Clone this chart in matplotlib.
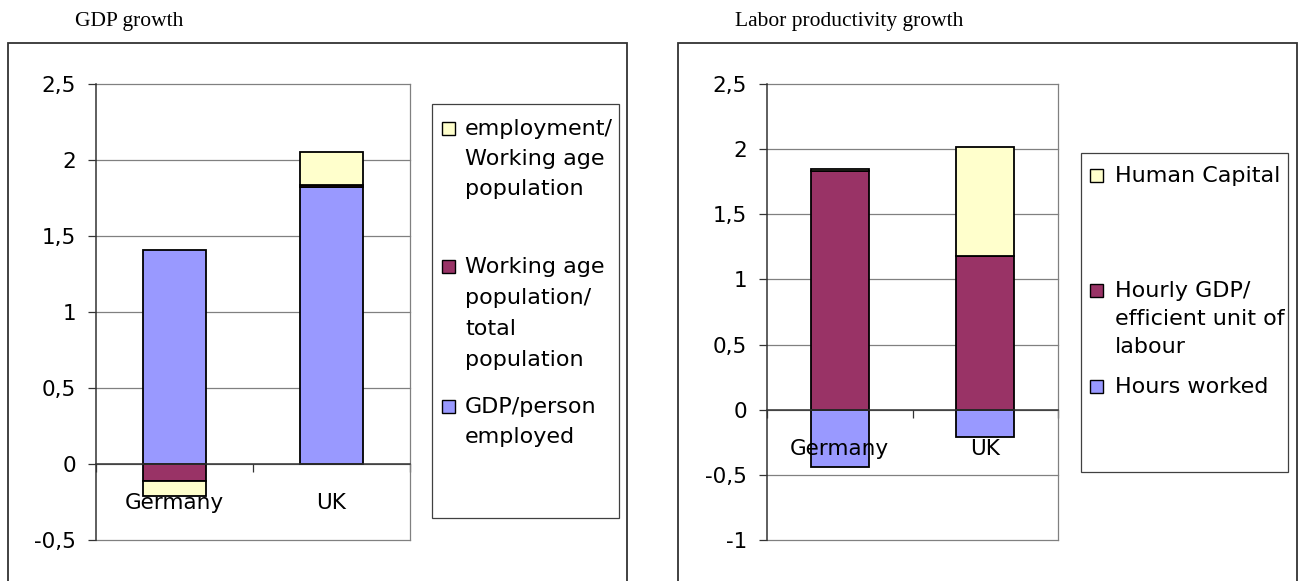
import numpy as np
import matplotlib.pyplot as plt
from matplotlib.patches import Rectangle

plt.rcParams['font.family'] = ['DejaVu Sans']
plt.rcParams['font.size'] = 15.5

W, H = 1299, 581

countries = ['Germany', 'UK']

# GDP growth split into three parts
gdp_per_employed = [1.41, 1.82]
working_age_share = [-0.11, 0.015]
employment_rate = [-0.10, 0.215]
gdp_labels = ['GDP/person\nemployed',
              'Working age\npopulation/\ntotal\npopulation',
              'employment/\nWorking age\npopulation']

# labour productivity growth split into three parts
hours_worked = [-0.44, -0.21]
hourly_gdp = [1.83, 1.18]
human_capital = [0.015, 0.84]
prod_labels = ['Hours worked',
               'Hourly GDP/\nefficient unit of\nlabour',
               'Human Capital']

gdp_yticks = [-0.5, 0, 0.5, 1, 1.5, 2, 2.5]
gdp_yticklabels = ['-0,5', '0', '0,5', '1', '1,5', '2', '2,5']
prod_yticks = [-1, -0.5, 0, 0.5, 1, 1.5, 2, 2.5]
prod_yticklabels = ['-1', '-0,5', '0', '0,5', '1', '1,5', '2', '2,5']

colors = ['#9999ff', '#993366', '#ffffcc']


def px(x, y):
    return x / W, 1 - y / H


def stacked_bars(ax, series):
    x = np.arange(len(countries))
    pos = np.zeros(len(x))
    neg = np.zeros(len(x))
    for vals, c in zip(series, colors):
        vals = np.asarray(vals, dtype=float)
        bottom = np.where(vals >= 0, pos, neg)
        ax.bar(x, vals, 0.4, bottom=bottom, color=c, edgecolor='black',
               linewidth=1.3, zorder=1)
        pos += np.clip(vals, 0, None)
        neg += np.clip(vals, None, 0)


def style_axes(ax, yticks, yticklabels):
    ax.set_xlim(-0.5, 1.5)
    ax.set_ylim(yticks[0], yticks[-1])
    for y in yticks:
        ax.axhline(y, color='#808080', lw=0.9, zorder=0, clip_on=False)
    ax.set_yticks(yticks)
    ax.set_yticklabels(yticklabels)
    ax.tick_params(axis='y', length=6, width=0.9, color='#333333', pad=8.5)
    ax.spines['top'].set_visible(False)
    ax.spines['right'].set_color('#808080')
    ax.spines['right'].set_linewidth(0.9)
    ax.spines['left'].set_color('#333333')
    ax.spines['left'].set_linewidth(1.1)
    ax.spines['bottom'].set_position(('data', 0))
    ax.spines['bottom'].set_color('#333333')
    ax.spines['bottom'].set_linewidth(1.1)
    ax.set_xticks([-0.5, 0.5, 1.5])
    ax.set_xticks([0, 1], minor=True)
    ax.set_xticklabels(countries, minor=True)
    ax.tick_params(axis='x', which='major', length=6, width=0.9,
                   color='#333333', labelbottom=False)
    ax.tick_params(axis='x', which='minor', length=0, pad=21)


def legend_box(box, entries, marker_x, text_x):
    x0, y0, x1, y1 = box
    fig.add_artist(Rectangle(px(x0, y1), (x1 - x0) / W, (y1 - y0) / H,
                             transform=fig.transFigure, fill=False,
                             ec='#404040', lw=0.9))
    for label, color, base, step in entries:
        for i, line in enumerate(label.split('\n')):
            fig.text(*px(text_x, base + i * step), line, va='baseline',
                     ha='left', fontsize=16)
        fig.add_artist(Rectangle(px(marker_x, base), 13 / W, 13 / H,
                                 transform=fig.transFigure, fc=color,
                                 ec='black', lw=1.0))


fig = plt.figure(figsize=(W / 100, H / 100), dpi=100)

# outer frames round each chart
for x0, x1 in [(8, 627), (678, 1297)]:
    fig.add_artist(Rectangle(px(x0, 600), (x1 - x0) / W, (600 - 43) / H,
                             transform=fig.transFigure, fill=False,
                             ec='#333333', lw=1.3))

fig.text(*px(75, 26), 'GDP growth', family='Liberation Serif',
         fontsize=15.5, va='baseline')
fig.text(*px(735, 26), 'Labor productivity growth', family='Liberation Serif',
         fontsize=15.5, va='baseline')

ax1 = fig.add_axes([96 / W, 1 - 540 / H, 314 / W, 456 / H])
stacked_bars(ax1, [gdp_per_employed, working_age_share, employment_rate])
style_axes(ax1, gdp_yticks, gdp_yticklabels)

ax2 = fig.add_axes([767 / W, 1 - 540 / H, 291 / W, 456 / H])
stacked_bars(ax2, [hours_worked, hourly_gdp, human_capital])
style_axes(ax2, prod_yticks, prod_yticklabels)

legend_box((432, 104, 619, 518),
           [(gdp_labels[2], colors[2], 135, 30),
            (gdp_labels[1], colors[1], 273, 31),
            (gdp_labels[0], colors[0], 413, 30)],
           442, 465)
legend_box((1081, 153, 1288, 472),
           [(prod_labels[2], colors[2], 182, 28),
            (prod_labels[1], colors[1], 297, 28),
            (prod_labels[0], colors[0], 393, 28)],
           1090, 1115)

fig.savefig('out.png', dpi=100)
